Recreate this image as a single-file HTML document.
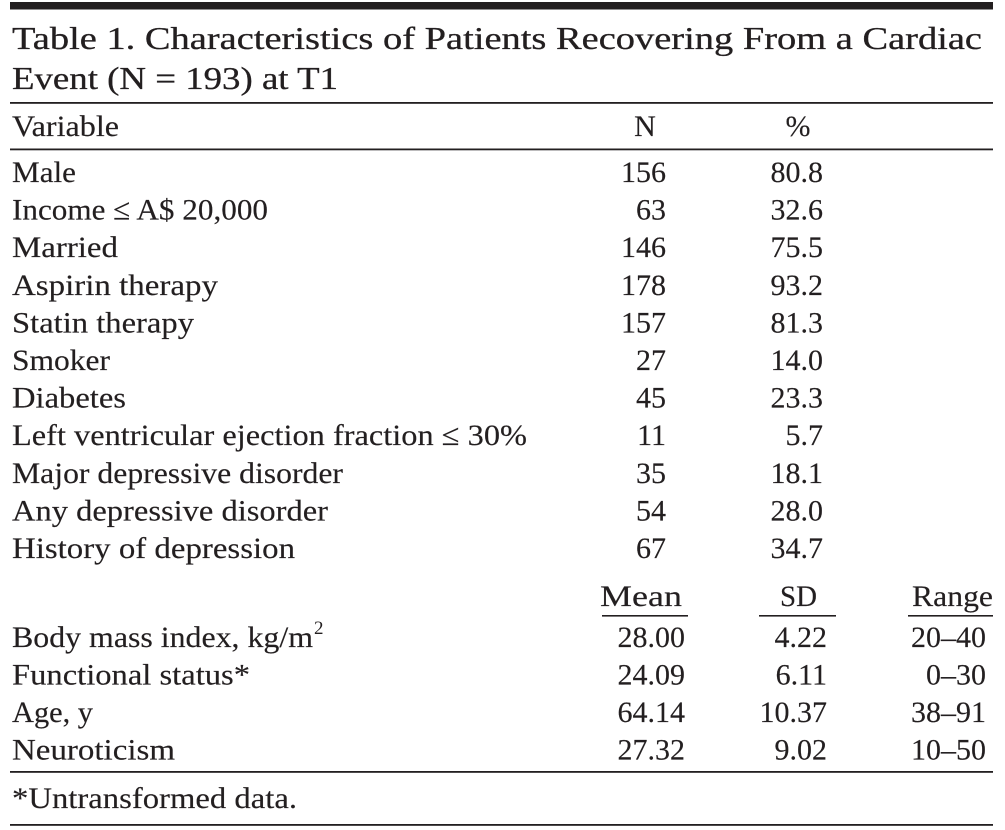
<!DOCTYPE html>
<html>
<head>
<meta charset="utf-8">
<style>
  html, body { margin:0; padding:0; background:#ffffff; }
  body { width:1005px; height:830px; overflow:hidden; }
  svg { display:block; }
  text { font-family: "Liberation Serif", "DejaVu Serif", serif; fill:#231f20; }
  .b { font-size:30px; stroke:#231f20; stroke-width:0.15px; }
  .t { font-size:32px; stroke:#231f20; stroke-width:0.3px; }
  .f { font-size:30px; stroke:#231f20; stroke-width:0.15px; }
</style>
</head>
<body>
<svg width="1005" height="830" viewBox="0 0 1005 830" xmlns="http://www.w3.org/2000/svg">
  <!-- rules -->
  <rect x="10" y="2" width="983" height="7.5" fill="#231f20"/>
  <rect x="10" y="102" width="983" height="1.8" fill="#231f20"/>
  <rect x="10" y="148.5" width="983" height="1.8" fill="#231f20"/>
  <rect x="602" y="615" width="86" height="1.6" fill="#231f20"/>
  <rect x="759" y="615" width="77" height="1.6" fill="#231f20"/>
  <rect x="908" y="615" width="85" height="1.6" fill="#231f20"/>
  <rect x="10" y="771" width="983" height="1.8" fill="#231f20"/>
  <rect x="10" y="824" width="983" height="1.8" fill="#231f20"/>

  <!-- title -->
  <text class="t" x="12" y="49" textLength="970" lengthAdjust="spacingAndGlyphs">Table 1. Characteristics of Patients Recovering From a Cardiac</text>
  <text class="t" x="12" y="89" textLength="326" lengthAdjust="spacingAndGlyphs">Event (N = 193) at T1</text>

  <!-- header -->
  <text class="b" x="12" y="136" textLength="107" lengthAdjust="spacingAndGlyphs">Variable</text>
  <text class="b" x="645" y="136" text-anchor="middle">N</text>
  <text class="b" x="798" y="136" text-anchor="middle">%</text>

  <!-- left labels -->
  <text class="b" x="12" y="182" textLength="64" lengthAdjust="spacingAndGlyphs">Male</text>
  <text class="b" x="12" y="219.6" textLength="256" lengthAdjust="spacingAndGlyphs">Income ≤ A$ 20,000</text>
  <text class="b" x="12" y="257.2" textLength="106" lengthAdjust="spacingAndGlyphs">Married</text>
  <text class="b" x="12" y="294.8" textLength="206" lengthAdjust="spacingAndGlyphs">Aspirin therapy</text>
  <text class="b" x="12" y="332.4" textLength="182" lengthAdjust="spacingAndGlyphs">Statin therapy</text>
  <text class="b" x="12" y="370" textLength="98" lengthAdjust="spacingAndGlyphs">Smoker</text>
  <text class="b" x="12" y="407.6" textLength="114" lengthAdjust="spacingAndGlyphs">Diabetes</text>
  <text class="b" x="12" y="445.2" textLength="515" lengthAdjust="spacingAndGlyphs">Left ventricular ejection fraction ≤ 30%</text>
  <text class="b" x="12" y="482.8" textLength="331" lengthAdjust="spacingAndGlyphs">Major depressive disorder</text>
  <text class="b" x="12" y="520.4" textLength="316" lengthAdjust="spacingAndGlyphs">Any depressive disorder</text>
  <text class="b" x="12" y="558" textLength="283" lengthAdjust="spacingAndGlyphs">History of depression</text>

  <!-- N column -->
  <text class="b" x="666" y="182" text-anchor="end">156</text>
  <text class="b" x="666" y="219.6" text-anchor="end">63</text>
  <text class="b" x="666" y="257.2" text-anchor="end">146</text>
  <text class="b" x="666" y="294.8" text-anchor="end">178</text>
  <text class="b" x="666" y="332.4" text-anchor="end">157</text>
  <text class="b" x="666" y="370" text-anchor="end">27</text>
  <text class="b" x="666" y="407.6" text-anchor="end">45</text>
  <text class="b" x="666" y="445.2" text-anchor="end">11</text>
  <text class="b" x="666" y="482.8" text-anchor="end">35</text>
  <text class="b" x="666" y="520.4" text-anchor="end">54</text>
  <text class="b" x="666" y="558" text-anchor="end">67</text>

  <!-- % column -->
  <text class="b" x="823" y="182" text-anchor="end">80.8</text>
  <text class="b" x="823" y="219.6" text-anchor="end">32.6</text>
  <text class="b" x="823" y="257.2" text-anchor="end">75.5</text>
  <text class="b" x="823" y="294.8" text-anchor="end">93.2</text>
  <text class="b" x="823" y="332.4" text-anchor="end">81.3</text>
  <text class="b" x="823" y="370" text-anchor="end">14.0</text>
  <text class="b" x="823" y="407.6" text-anchor="end">23.3</text>
  <text class="b" x="823" y="445.2" text-anchor="end">5.7</text>
  <text class="b" x="823" y="482.8" text-anchor="end">18.1</text>
  <text class="b" x="823" y="520.4" text-anchor="end">28.0</text>
  <text class="b" x="823" y="558" text-anchor="end">34.7</text>

  <!-- second header -->
  <text class="b" x="600" y="606" textLength="82" lengthAdjust="spacingAndGlyphs">Mean</text>
  <text class="b" x="780" y="606" textLength="37" lengthAdjust="spacingAndGlyphs">SD</text>
  <text class="b" x="912" y="606" textLength="81" lengthAdjust="spacingAndGlyphs">Range</text>

  <!-- continuous rows -->
  <text class="b" x="12" y="647" textLength="301" lengthAdjust="spacingAndGlyphs">Body mass index, kg/m</text>
  <text x="314" y="634" style="font-size:19px;">2</text>
  <text class="b" x="12" y="684.5" textLength="238" lengthAdjust="spacingAndGlyphs">Functional status*</text>
  <text class="b" x="12" y="722" textLength="81" lengthAdjust="spacingAndGlyphs">Age, y</text>
  <text class="b" x="12" y="759.5" textLength="163" lengthAdjust="spacingAndGlyphs">Neuroticism</text>

  <text class="b" x="685" y="647" text-anchor="end">28.00</text>
  <text class="b" x="685" y="684.5" text-anchor="end">24.09</text>
  <text class="b" x="685" y="722" text-anchor="end">64.14</text>
  <text class="b" x="685" y="759.5" text-anchor="end">27.32</text>

  <text class="b" x="827" y="647" text-anchor="end">4.22</text>
  <text class="b" x="827" y="684.5" text-anchor="end">6.11</text>
  <text class="b" x="827" y="722" text-anchor="end">10.37</text>
  <text class="b" x="827" y="759.5" text-anchor="end">9.02</text>

  <text class="b" x="986" y="647" text-anchor="end">20–40</text>
  <text class="b" x="986" y="684.5" text-anchor="end">0–30</text>
  <text class="b" x="986" y="722" text-anchor="end">38–91</text>
  <text class="b" x="986" y="759.5" text-anchor="end">10–50</text>

  <!-- footnote -->
  <text class="f" x="12" y="808" textLength="285" lengthAdjust="spacingAndGlyphs">*Untransformed data.</text>
</svg>
</body>
</html>
